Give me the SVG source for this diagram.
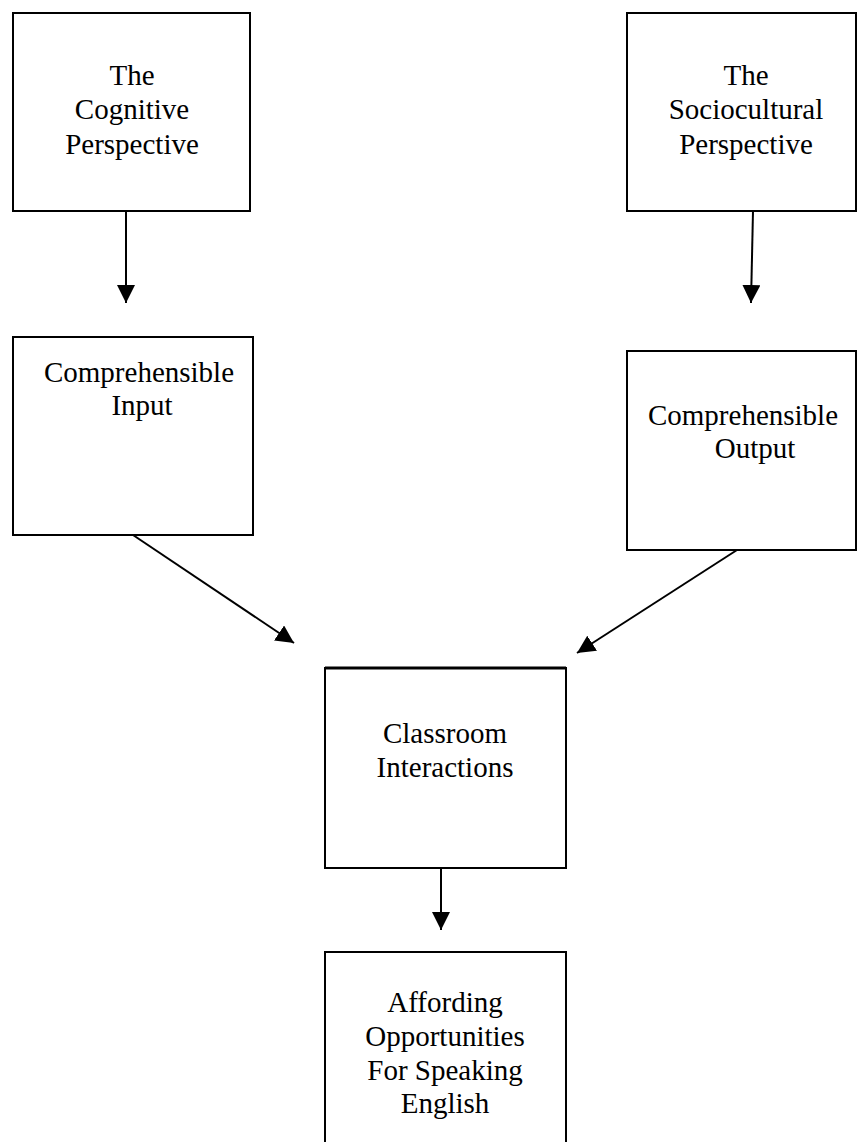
<svg xmlns="http://www.w3.org/2000/svg" width="857" height="1142" viewBox="0 0 857 1142">
<style>
.box{fill:#fff;stroke:#000;stroke-width:2}
.t{font-family:"Liberation Serif","Times New Roman",serif;font-size:29px;fill:#000;text-anchor:middle}
.c{stroke:#000;stroke-width:2;fill:none;marker-end:url(#ah)}
</style>
<defs>
<marker id="ah" markerWidth="10" markerHeight="10" refX="9" refY="5" orient="auto" markerUnits="userSpaceOnUse" viewBox="0 0 10 10">
<path d="M0,0 L10,5 L0,10 z" fill="#000"/>
</marker>
<marker id="ahL" markerWidth="18" markerHeight="18" refX="18" refY="9" orient="auto" markerUnits="userSpaceOnUse" viewBox="0 0 18 18">
<path d="M0,0 L18,9 L0,18 z" fill="#000"/>
</marker>
</defs>
<rect width="857" height="1142" fill="#fff"/>
<g id="n1"><rect class="box" x="13" y="13" width="237" height="198"/>
<text class="t" x="132" y="85">The</text><text class="t" x="132" y="119">Cognitive</text><text class="t" x="132" y="154">Perspective</text></g>
<g id="n2"><rect class="box" x="627" y="13" width="229" height="198"/>
<text class="t" x="746" y="85">The</text><text class="t" x="746" y="119">Sociocultural</text><text class="t" x="746" y="154">Perspective</text></g>
<g id="n3"><rect class="box" x="13" y="337" width="240" height="198"/>
<text class="t" x="139" y="382">Comprehensible</text><text class="t" x="142" y="415">Input</text></g>
<g id="n4"><rect class="box" x="627" y="351" width="229" height="199"/>
<text class="t" x="743" y="425">Comprehensible</text><text class="t" x="755" y="458">Output</text></g>
<g id="n5"><rect class="box" x="325" y="668" width="241" height="200"/>
<line x1="325" y1="668" x2="566" y2="668" stroke="#000" stroke-width="3"/>
<text class="t" x="445" y="743">Classroom</text><text class="t" x="445" y="777">Interactions</text></g>
<g id="n6"><rect class="box" x="325" y="952" width="241" height="200"/>
<text class="t" x="445" y="1012">Affording</text><text class="t" x="445" y="1046">Opportunities</text><text class="t" x="445" y="1080">For Speaking</text><text class="t" x="445" y="1113">English</text></g>
<g id="connectors">
<line class="c" x1="126" y1="211" x2="126" y2="303" style="marker-end:url(#ahL)"/>
<line class="c" x1="753" y1="211" x2="751" y2="303" style="marker-end:url(#ahL)"/>
<line class="c" x1="133" y1="535" x2="294" y2="643" style="marker-end:url(#ahL)"/>
<line class="c" x1="737" y1="550" x2="577" y2="653" style="marker-end:url(#ahL)"/>
<line class="c" x1="441" y1="868" x2="441" y2="930" style="marker-end:url(#ahL)"/>
</g>
</svg>
